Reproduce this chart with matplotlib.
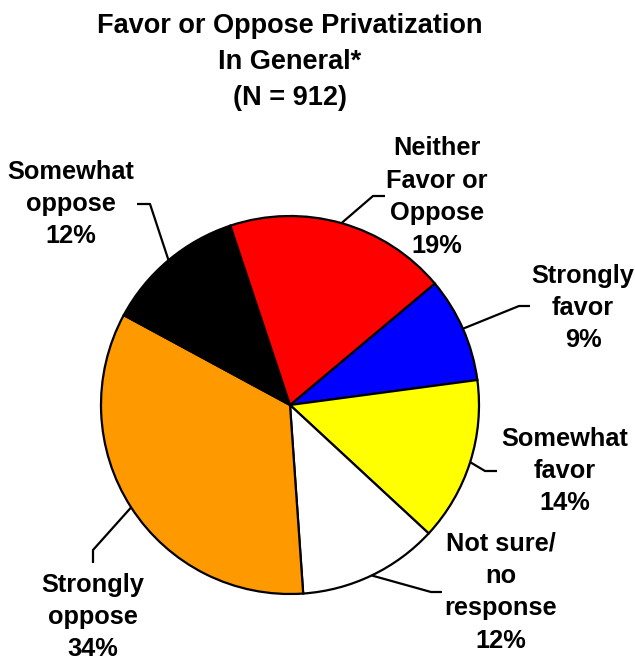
import numpy as np
import matplotlib.pyplot as plt

# chart data (clockwise from the blue wedge)
labels = ["Strongly\nfavor", "Somewhat\nfavor", "Not sure/\nno\nresponse",
          "Strongly\noppose", "Somewhat\noppose", "Neither\nFavor or\nOppose"]
values = [9, 14, 12, 34, 12, 19]
colors = ["#0000FF", "#FFFF00", "#FFFFFF", "#FF9900", "#000000", "#FF0000"]

# layout in pixels (label centre, leader elbow, leader end)
W, H = 635, 660
cx, cy, R = 290, 405, 189
label_pos = [(583, 308), (565, 471), (501, 592), (93, 617), (71, 204), (437, 197)]
elbows = [(519, 306), (485, 471), (431, 592), (93, 550), (150, 204), (373, 196)]
ends = [(530, 306), (497, 471), (442, 592), (93, 563), (137, 204), (385, 196)]

plt.rcParams['font.family'] = ['Liberation Sans', 'DejaVu Sans']

fig = plt.figure(figsize=(W / 100, H / 100), dpi=100)
ax = fig.add_axes([(cx - R) / W, (H - cy - R) / H, 2 * R / W, 2 * R / H])

wedges, _ = ax.pie(values, colors=colors, startangle=40, counterclock=False,
                   radius=1, wedgeprops=dict(edgecolor="black", linewidth=1.6))
ax.set_xlim(-1, 1)
ax.set_ylim(-1, 1)
ax.axis("off")


def to_data(p):
    return (p[0] - cx) / R, (cy - p[1]) / R


for w, lab, v, lp, el, en in zip(wedges, labels, values, label_pos, elbows, ends):
    mid = np.deg2rad((w.theta1 + w.theta2) / 2)
    ex, ey = np.cos(mid), np.sin(mid)
    e1 = to_data(el)
    e2 = to_data(en)
    ax.plot([ex, e1[0], e2[0]], [ey, e1[1], e2[1]], color="black", lw=1.6,
            clip_on=False, solid_capstyle="butt")
    tx, ty = to_data(lp)
    ax.text(tx, ty, f"{lab}\n{v}%", ha="center", va="center", fontsize=18.3,
            fontweight="bold", linespacing=1.44)

fig.text(0.456, 1 - 62 / H, "Favor or Oppose Privatization\nIn General*\n(N = 912)",
         ha="center", va="center", fontsize=19.5, fontweight="bold", linespacing=1.48)

fig.savefig("out.png", dpi=100)
